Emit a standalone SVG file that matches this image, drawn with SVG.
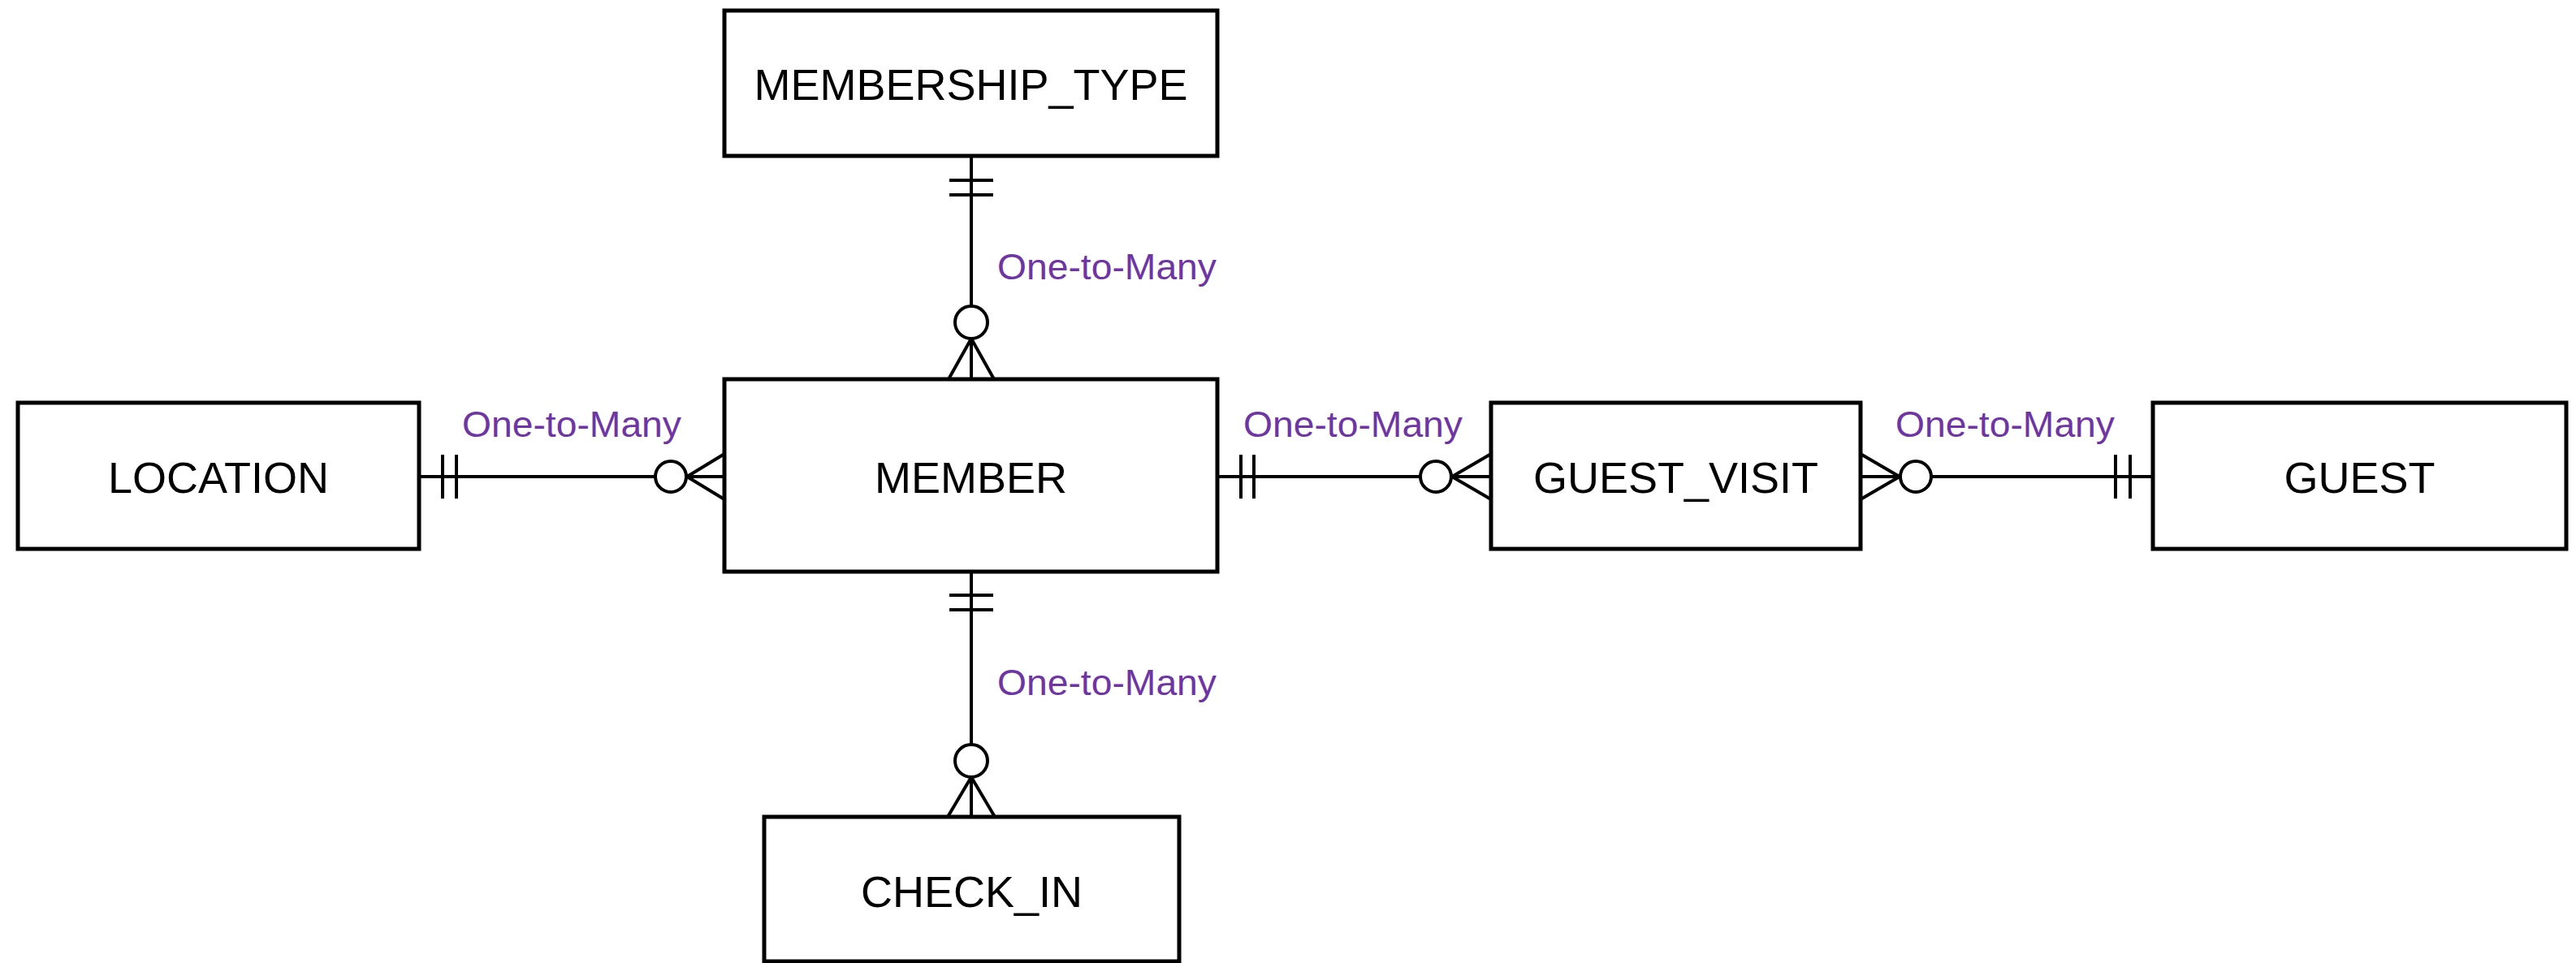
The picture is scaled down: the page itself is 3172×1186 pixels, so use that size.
<svg xmlns="http://www.w3.org/2000/svg" width="3172" height="1186" viewBox="0 0 3172 1186">
<style>
.box{fill:#fff;stroke:#000;stroke-width:5}
.lbl{font-family:"Liberation Sans",Arial,sans-serif;font-size:54px;fill:#000;text-anchor:middle}
.rel{font-family:"Liberation Sans",Arial,sans-serif;font-size:45px;fill:#6E35A3}
.ln{fill:none;stroke:#000;stroke-width:4}
.circ{fill:#fff;stroke:#000;stroke-width:4}
</style>
<rect width="3172" height="1186" fill="#fff"/>
<g id="connectors">
  <g id="c-mt-member">
    <path class="ln" d="M1196 192V377M1169 222H1223M1169 240H1223M1196 417V467M1196 417L1168 467M1196 417L1224 467"/>
    <circle class="circ" cx="1196" cy="397" r="20"/>
    <text class="rel" x="1228" y="344" textLength="270" lengthAdjust="spacingAndGlyphs">One-to-Many</text>
  </g>
  <g id="c-location-member">
    <path class="ln" d="M516 587H807M545 560V614M562 560V614M846 587H892M846 587L892 559M846 587L892 615"/>
    <circle class="circ" cx="826" cy="587" r="19"/>
    <text class="rel" x="569" y="538" textLength="270" lengthAdjust="spacingAndGlyphs">One-to-Many</text>
  </g>
  <g id="c-member-guestvisit">
    <path class="ln" d="M1499 587H1748M1528 560V614M1544 560V614M1788 587H1836M1788 587L1836 559M1788 587L1836 615"/>
    <circle class="circ" cx="1768" cy="587" r="19"/>
    <text class="rel" x="1531" y="538" textLength="270" lengthAdjust="spacingAndGlyphs">One-to-Many</text>
  </g>
  <g id="c-guestvisit-guest">
    <path class="ln" d="M2379 587H2651M2605 560V614M2623 560V614M2339 587H2291M2339 587L2291 559M2339 587L2291 615"/>
    <circle class="circ" cx="2359" cy="587" r="19"/>
    <text class="rel" x="2334" y="538" textLength="270" lengthAdjust="spacingAndGlyphs">One-to-Many</text>
  </g>
  <g id="c-member-checkin">
    <path class="ln" d="M1196 704V917M1169 733H1223M1169 751H1223M1196 957V1006M1196 957L1167 1006M1196 957L1225 1006"/>
    <circle class="circ" cx="1196" cy="937" r="20"/>
    <text class="rel" x="1228" y="856" textLength="270" lengthAdjust="spacingAndGlyphs">One-to-Many</text>
  </g>
</g>
<g id="membership_type">
  <rect class="box" x="892" y="13" width="607" height="179"/>
  <text class="lbl" x="1195.5" y="123">MEMBERSHIP_TYPE</text>
</g>
<g id="member">
  <rect class="box" x="892" y="467" width="607" height="237"/>
  <text class="lbl" x="1195.5" y="607">MEMBER</text>
</g>
<g id="location">
  <rect class="box" x="22" y="496" width="494" height="180"/>
  <text class="lbl" x="269" y="607">LOCATION</text>
</g>
<g id="guest_visit">
  <rect class="box" x="1836" y="496" width="455" height="180"/>
  <text class="lbl" x="2063.5" y="607">GUEST_VISIT</text>
</g>
<g id="guest">
  <rect class="box" x="2651" y="496" width="509" height="180"/>
  <text class="lbl" x="2905.5" y="607">GUEST</text>
</g>
<g id="check_in">
  <rect class="box" x="941" y="1006" width="511" height="178"/>
  <text class="lbl" x="1196.5" y="1117">CHECK_IN</text>
</g>
</svg>
